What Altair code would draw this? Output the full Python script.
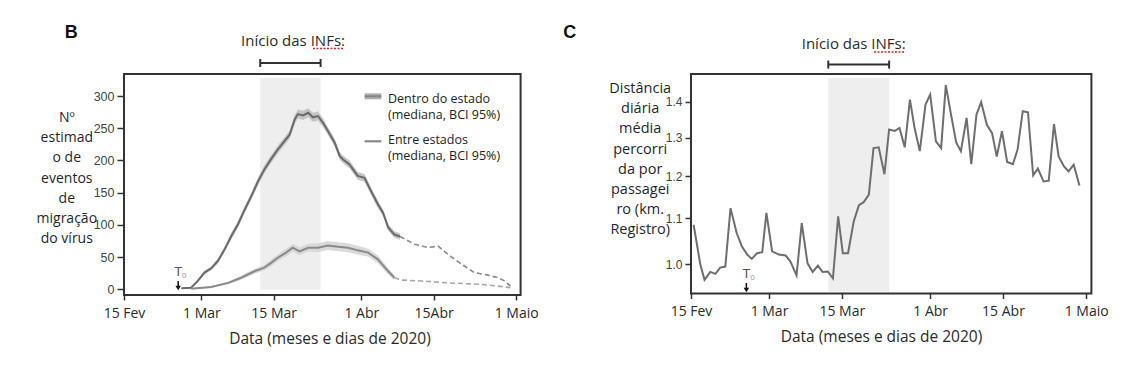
import altair as alt
import pandas as pd

# ---------------- data (x = days since 15 Feb 2020) ----------------
# Panel B: estimated number of virus migration events
B_WITHIN_DAY = [11.1, 13.0, 14.3, 15.6, 16.9, 18.2, 19.5, 20.8, 22.1, 23.4, 24.7, 26.0, 27.2,
                28.5, 29.8, 31.1, 32.1, 33.1, 33.7, 34.7, 35.7, 36.6, 37.6, 38.6, 39.5, 40.8,
                41.8, 42.4, 43.7, 45.3, 46.6, 47.9, 49.2, 50.2, 51.2, 52.4, 53.5]
B_WITHIN_MED = [1.5, 2.5, 13, 26, 32.6, 44, 62, 82.7, 101, 124, 145, 168, 186,
                202, 217, 230, 240, 264, 272, 270, 274, 267, 269, 258, 246, 228,
                207, 202, 194, 176, 173, 152, 132, 119, 96, 85, 82]
B_WITHIN_HW = [1, 1, 2, 3, 3, 4, 4, 5, 5, 5, 5, 6, 6,
               6, 6, 6, 6, 7, 7, 7, 7, 7, 7, 7, 6, 6,
               6, 6, 6, 6, 6, 6, 6, 5, 5, 5, 5]
B_WITHIN_DASH_DAY = [53.5, 56.3, 58.9, 60.9, 62.8, 65.4, 67.9, 70.5, 72.5, 73.8, 74.9]
B_WITHIN_DASH_MED = [82, 70, 65, 67, 54, 39, 26, 22, 18, 13, 5]

B_BETWEEN_DAY = [13.0, 16.9, 20.2, 22.7, 25.3, 27.2, 28.5, 29.8, 31.4, 32.7, 34.0, 35.7,
                 37.6, 39.5, 41.5, 43.4, 45.3, 47.3, 49.2, 51.2, 52.4]
B_BETWEEN_MED = [1, 3.6, 10, 18, 28, 33.6, 41, 49, 57, 64.6, 59, 64.6,
                 64.6, 68, 66, 64.6, 60.5, 57, 46.5, 28, 18]
B_BETWEEN_HW = [1, 1, 2, 3, 4, 4, 5, 5, 6, 6, 6, 6,
                7, 7, 7, 7, 7, 6, 6, 5, 4]
B_BETWEEN_DASH_DAY = [52.4, 53.7, 57.6, 62.8, 69.3, 72.5, 74.9]
B_BETWEEN_DASH_MED = [18, 14.4, 13, 10, 7.7, 5, 2.5]

# Panel C: mean daily distance travelled per passenger (km, log scale)
C_DAY = [0.5, 1.8, 2.6, 3.7, 4.7, 5.6, 6.6, 7.6, 8.8, 9.8, 10.8, 11.7, 12.7, 13.7, 14.5,
         15.6, 16.9, 18.2, 19.1, 20.3, 21.3, 22.4, 23.4, 24.4, 25.3, 26.3, 27.3, 28.3, 29.2,
         30.2, 31.3, 32.3, 33.2, 34.2, 35.1, 36.1, 37.2, 38.1, 39.2, 40.1, 41.1, 42.1, 43.0,
         44.0, 45.1, 46.0, 47.1, 48.1, 49.0, 50.0, 51.0, 51.9, 53.0, 53.9, 54.9, 55.8, 56.9,
         57.9, 58.8, 59.8, 60.8, 61.9, 62.8, 63.8, 64.8, 65.8, 66.7, 67.8, 68.8, 69.8, 70.7,
         71.7, 72.6, 73.6, 74.7]
C_DIST = [1.085, 0.999, 0.968, 0.984, 0.980, 0.993, 0.995, 1.123, 1.066, 1.037, 1.020, 1.011,
          1.023, 1.025, 1.112, 1.027, 1.020, 1.018, 1.006, 0.977, 1.089, 1.002, 0.984, 0.997,
          0.984, 0.985, 0.971, 1.104, 1.023, 1.023, 1.093, 1.130, 1.137, 1.155, 1.272, 1.274,
          1.205, 1.322, 1.318, 1.326, 1.274, 1.406, 1.326, 1.264, 1.392, 1.421, 1.290, 1.272,
          1.449, 1.364, 1.287, 1.264, 1.354, 1.230, 1.364, 1.399, 1.335, 1.312, 1.250, 1.317,
          1.236, 1.230, 1.268, 1.373, 1.370, 1.202, 1.219, 1.187, 1.189, 1.337, 1.250, 1.225,
          1.212, 1.229, 1.177]

TICK_DAYS = [0, 15, 29, 46, 60, 76]
B_TICK_LABELS = ["15 Fev", "1 Mar", "15 Mar", "1 Abr", "15Abr", "1 Maio"]
C_TICK_LABELS = ["15 Fev", "1 Mar", "15 Mar", "1 Abr", "15 Abr", "1 Maio"]
B_Y_TICKS = [0, 50, 100, 150, 200, 250, 300]
C_Y_TICKS = [1.0, 1.1, 1.2, 1.3, 1.4]
NPI_START, NPI_END = 26.4, 38.1
T0_B, T0_C = 10.5, 10.65

B_YTITLE = ["Nº", "estimad", "o de", "eventos", "de", "migração", "do vírus"]
C_YTITLE = ["Distância", "diária", "média", "percorri", "da por", "passagei", "ro (km.", "Registro)"]
XTITLE = "Data (meses e dias de 2020)"
NPI_TITLE = "Início das INFs:"
LEGEND_LINES = ["Dentro do estado", "(mediana, BCI 95%)", "Entre estados", "(mediana, BCI 95%)"]

# ---------------- styling ----------------
FONT = "Open Sans"
NUMFONT = "Liberation Sans"
INK = "#2a2a2a"
FRAME = "#333333"
WB, HB = 396.6, 221
WC, HC = 400.4, 219.5

one = pd.DataFrame({"k": [0]})


def label_expr(labels):
    expr = "''"
    for d, lab in reversed(list(zip(TICK_DAYS, labels))):
        expr = f"datum.value == {d} ? '{lab}' : ({expr})"
    return expr


def x_axis(labels, title_x):
    return alt.Axis(values=TICK_DAYS, labelExpr=label_expr(labels), title=XTITLE,
                    grid=False, domain=False, tickSize=5, tickWidth=1.5, tickColor=FRAME,
                    labelFont=FONT, labelFontSize=14, labelColor=INK, labelPadding=6,
                    labelFlush=False, labelOverlap=False,
                    titleFont=FONT, titleFontSize=15.5, titleFontWeight="normal", titleColor=INK,
                    titlePadding=11, titleX=title_x, titleAlign="center")


def y_axis(values, fmt, title, tx, ty, ticksize, lfs, tfs):
    return alt.Axis(values=values, format=fmt, title=title, titleAngle=0, titleX=tx, titleY=ty,
                    titleAlign="center", titleBaseline="top", titleLineHeight=20.2,
                    titleFont=FONT, titleFontSize=tfs, titleFontWeight="normal", titleColor="#1f1f30",
                    grid=False, domain=False, tickSize=ticksize, tickWidth=1.5, tickColor=FRAME,
                    labelFont=NUMFONT, labelFontSize=lfs, labelColor="#444444", labelPadding=3)


def annotations(xs, xa, left, right, t0, npi_x, npi_y, bracket_y, letter, letter_x,
                arrow_top, arrow_bot, wave_x, wave_y):
    layers = []
    # invisible layout anchors
    layers.append(alt.Chart(one).mark_rule(strokeOpacity=0, strokeWidth=0).encode(
        x=alt.value(-left), x2=alt.value(-left), y=alt.value(-72.7), y2=alt.value(0)))
    if right is not None:
        layers.append(alt.Chart(one).mark_rule(strokeOpacity=0, strokeWidth=0).encode(
            x=alt.value(right), x2=alt.value(right), y=alt.value(0), y2=alt.value(10)))
    # panel letter
    layers.append(alt.Chart(one).mark_text(text=letter, font=NUMFONT, fontSize=18, fontWeight="bold",
                                           color="#111111", align="center", baseline="middle").encode(
        x=alt.value(letter_x), y=alt.value(-41)))
    # NPI title with its spell-check squiggle
    layers.append(alt.Chart(one).mark_text(text=NPI_TITLE, font=FONT, fontSize=15, color=INK,
                                           align="center", baseline="middle").encode(
        x=alt.value(npi_x), y=alt.value(npi_y)))
    layers.append(alt.Chart(one).mark_rule(color="#e02020", strokeWidth=1.3, strokeDash=[2, 1.5]).encode(
        x=alt.value(wave_x[0]), x2=alt.value(wave_x[1]), y=alt.value(wave_y)))
    npi = pd.DataFrame({"a": [NPI_START], "b": [NPI_END]})
    layers.append(alt.Chart(npi).mark_rule(color=FRAME, strokeWidth=2).encode(
        x=alt.X("a:Q", scale=xs, axis=xa), x2="b:Q", y=alt.value(bracket_y)))
    ends = pd.DataFrame({"a": [NPI_START, NPI_END]})
    layers.append(alt.Chart(ends).mark_rule(color=FRAME, strokeWidth=2).encode(
        x=alt.X("a:Q", scale=xs, axis=xa), y=alt.value(bracket_y - 4), y2=alt.value(bracket_y + 4)))
    # T0 marker
    t0df = pd.DataFrame({"a": [t0]})
    layers.append(alt.Chart(t0df).mark_text(text="T", font=NUMFONT, fontSize=13, color="#555555",
                                            align="center", baseline="middle").encode(
        x=alt.X("a:Q", scale=xs, axis=xa), y=alt.value(arrow_top - 9)))
    layers.append(alt.Chart(t0df).mark_text(text="0", font=NUMFONT, fontSize=8, color="#999999",
                                            align="center", baseline="middle", dx=6, dy=4).encode(
        x=alt.X("a:Q", scale=xs, axis=xa), y=alt.value(arrow_top - 9)))
    layers.append(alt.Chart(t0df).mark_rule(color="#111111", strokeWidth=1.5).encode(
        x=alt.X("a:Q", scale=xs, axis=xa), y=alt.value(arrow_top), y2=alt.value(arrow_bot - 2)))
    layers.append(alt.Chart(t0df).mark_point(shape="triangle-down", filled=True, size=30,
                                             color="#111111", opacity=1).encode(
        x=alt.X("a:Q", scale=xs, axis=xa), y=alt.value(arrow_bot - 2)))
    return layers


# ---------------- Panel B ----------------
XB = alt.Scale(domain=[0, 76.86], nice=False, zero=False)
YB = alt.Scale(domain=[-8.8, 334.2], nice=False, zero=False)
XAB = x_axis(B_TICK_LABELS, 205.5)
YAB = y_axis(B_Y_TICKS, "d", B_YTITLE, -57.7, 36.5, 7, 12.5, 14)

within = pd.DataFrame({"a": B_WITHIN_DAY, "v": B_WITHIN_MED,
                       "lo": [m - h for m, h in zip(B_WITHIN_MED, B_WITHIN_HW)],
                       "hi": [m + h for m, h in zip(B_WITHIN_MED, B_WITHIN_HW)]})
between = pd.DataFrame({"a": B_BETWEEN_DAY, "v": B_BETWEEN_MED,
                        "lo": [max(m - h, 0) for m, h in zip(B_BETWEEN_MED, B_BETWEEN_HW)],
                        "hi": [m + h for m, h in zip(B_BETWEEN_MED, B_BETWEEN_HW)]})
within_d = pd.DataFrame({"a": B_WITHIN_DASH_DAY, "v": B_WITHIN_DASH_MED})
between_d = pd.DataFrame({"a": B_BETWEEN_DASH_DAY, "v": B_BETWEEN_DASH_MED})

shadeB = alt.Chart(pd.DataFrame({"a": [NPI_START], "b": [NPI_END], "v": [-0.5], "y1": [328.4]})).mark_rect(
    color="#eeeeee").encode(
    x=alt.X("a:Q", scale=XB, axis=XAB), x2="b:Q",
    y=alt.Y("v:Q", scale=YB, axis=YAB), y2="y1:Q")


def band(df, color, op):
    return alt.Chart(df).mark_area(color=color, opacity=op).encode(
        x=alt.X("a:Q", scale=XB, axis=XAB), y=alt.Y("lo:Q", scale=YB, axis=YAB), y2="hi:Q")


def line(df, color, w, dash=None):
    kw = dict(color=color, strokeWidth=w)
    if dash:
        kw["strokeDash"] = dash
    return alt.Chart(df).mark_line(**kw).encode(
        x=alt.X("a:Q", scale=XB, axis=XAB), y=alt.Y("v:Q", scale=YB, axis=YAB))


legend_layers = [
    alt.Chart(one).mark_rule(color="#b0b0b0", strokeWidth=6).encode(
        x=alt.value(240.6), x2=alt.value(257.3), y=alt.value(22.3)),
    alt.Chart(one).mark_rule(color="#858585", strokeWidth=2).encode(
        x=alt.value(240.6), x2=alt.value(257.3), y=alt.value(22.3)),
    alt.Chart(one).mark_rule(color="#8a8a8a", strokeWidth=2.2).encode(
        x=alt.value(240.6), x2=alt.value(257.3), y=alt.value(67.3)),
]
for txt, yy in zip(LEGEND_LINES, [24.6, 41.3, 65.6, 82.3]):
    legend_layers.append(alt.Chart(one).mark_text(text=txt, font=FONT, fontSize=12.5, color="#222222",
                                                  align="left", baseline="middle").encode(
        x=alt.value(264), y=alt.value(yy)))

panelB = alt.layer(
    shadeB,
    band(within, "#bdbdbd", 0.85),
    band(between, "#d4d4d4", 0.85),
    line(within, "#6a6a6a", 2),
    line(between, "#8a8a8a", 2),
    line(within_d, "#8a8a8a", 1.6, [5, 3]),
    line(between_d, "#a6a6a6", 1.6, [5, 3]),
    *legend_layers,
    *annotations(XB, XAB, 122.7, WB + 30, T0_B, 169, -33.4, -11, "B", -52.7, 207, 216,
                 (189, 219), -25.5),
).properties(width=WB, height=HB)

# ---------------- Panel C ----------------
XC = alt.Scale(domain=[0, 77.0], nice=False, zero=False)
YC = alt.Scale(type="log", domain=[0.941, 1.483], nice=False, zero=False)
XAC = x_axis(C_TICK_LABELS, 190)
YAC = y_axis(C_Y_TICKS, ".1f", C_YTITLE, -51.3, 7.5, 6, 12, 14.5)

cdf = pd.DataFrame({"a": C_DAY, "v": C_DIST})

shadeC = alt.Chart(pd.DataFrame({"a": [NPI_START], "b": [NPI_END], "v": [0.945], "y1": [1.471]})).mark_rect(
    color="#eeeeee").encode(
    x=alt.X("a:Q", scale=XC, axis=XAC), x2="b:Q",
    y=alt.Y("v:Q", scale=YC, axis=YAC), y2="y1:Q")

lineC = alt.Chart(cdf).mark_line(color="#6e6e6e", strokeWidth=2).encode(
    x=alt.X("a:Q", scale=XC, axis=XAC), y=alt.Y("v:Q", scale=YC, axis=YAC))

panelC = alt.layer(
    shadeC,
    lineC,
    *annotations(XC, XAC, 132, None, T0_C, 162.7, -30, -9.4, "C", -121.3, 209, 218,
                 (183, 213), -22),
).properties(width=WC, height=HC)

chart = alt.hconcat(panelB, panelC, spacing=6).properties(
    padding=0, background="white"
).configure_view(stroke=FRAME, strokeWidth=2)

chart.save("out.html", embed_options={"renderer": "svg", "actions": False})
